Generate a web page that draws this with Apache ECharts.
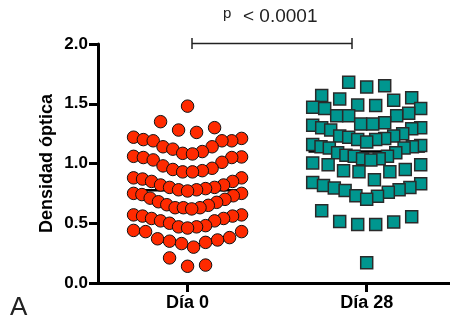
<!DOCTYPE html>
<html><head><meta charset="utf-8">
<script src="https://cdn.jsdelivr.net/npm/echarts@6/dist/echarts.min.js"></script>
<style>html,body{margin:0;padding:0;background:#fff}#c{width:450px;height:324px}</style>
</head><body><div id="c"></div>
<script>
// ---- data ----
const categories = ['Día 0', 'Día 28'];
const dia0Values = [
  1.48, 1.35, 1.28, 1.26, 1.30,
  1.21, 1.19, 1.19, 1.14, 1.10, 1.12, 1.14, 1.19, 1.20, 1.22, 1.08, 1.085,
  1.06, 1.05, 1.03, 0.98, 0.95, 0.93, 0.93, 0.94, 0.96, 1.01, 1.05, 1.055,
  0.88, 0.85, 0.82, 0.80, 0.78, 0.77, 0.78, 0.79, 0.80, 0.82, 0.85, 0.87, 0.88,
  0.75, 0.73, 0.70, 0.675, 0.65, 0.63, 0.62, 0.63, 0.655, 0.68, 0.71, 0.74, 0.75, 0.63,
  0.57, 0.56, 0.54, 0.52, 0.50, 0.47, 0.46, 0.47, 0.48, 0.52, 0.54, 0.56, 0.57,
  0.44, 0.43, 0.37, 0.35, 0.33, 0.30, 0.34, 0.36, 0.38, 0.43,
  0.21, 0.14, 0.15
];
const dia28Values = [
  1.64, 1.65, 1.68,
  1.485, 1.49, 1.53, 1.54, 1.55, 1.57,
  1.33, 1.33, 1.34, 1.40, 1.40, 1.40, 1.42, 1.46, 1.46, 1.47,
  1.18, 1.20, 1.20, 1.21, 1.22, 1.23, 1.23, 1.25, 1.28, 1.29, 1.30, 1.30, 1.32,
  1.03, 1.04, 1.04, 1.06, 1.06, 1.07, 1.09, 1.09, 1.13, 1.13, 1.14, 1.14, 1.15, 1.16,
  0.865, 0.93, 0.93, 0.94, 0.95, 0.99, 0.99, 1.005,
  0.70, 0.725, 0.73, 0.76, 0.775, 0.78, 0.795, 0.80, 0.815, 0.83, 0.84,
  0.49, 0.49, 0.51, 0.515, 0.555, 0.605,
  0.17
];
const yTicks = [0, 0.5, 1.0, 1.5, 2.0];
const pText = '< 0.0001';

// ---- layout ----
const W = 450, H = 324;
const gridLeft = 98, gridRight = 0, gridTop = 44, gridBottom = 41;
const xMin = 0, xMax = 3.93;
const catX = [1, 3];
const pxPerUnit = (W - gridLeft - gridRight) / (xMax - xMin);

// GraphPad-like column scatter: bin by value, spread each bin horizontally,
// lowest values in the middle.
function swarm(values, cx) {
  const s = values.slice().sort((a, b) => a - b);
  const rowH = 0.145, maxSpan = 108, maxStep = 18;
  const pts = [];
  let i = 0;
  while (i < s.length) {
    const start = s[i];
    const row = [];
    while (i < s.length && s[i] < start + rowH) { row.push(s[i]); i++; }
    const n = row.length;
    const step = n > 1 ? Math.min(maxStep, maxSpan / (n - 1)) : 0;
    row.forEach((v, k) => {
      let slot;
      if (n % 2 === 1) slot = k === 0 ? 0 : (k % 2 === 1 ? 1 : -1) * Math.ceil(k / 2);
      else slot = (k % 2 === 0 ? 1 : -1) * (Math.floor(k / 2) + 0.5);
      pts.push([cx + slot * step / pxPerUnit, v]);
    });
  }
  return pts.reverse();
}
const mean = a => a.reduce((p, c) => p + c, 0) / a.length;
const m0 = mean(dia0Values), m28 = mean(dia28Values);
const half = 0.65;

const chart = echarts.init(document.getElementById('c'), null, {renderer: 'canvas'});
const FONT = 'Liberation Sans, Arial, Helvetica, sans-serif';
chart.setOption({
  animation: false,
  backgroundColor: '#fff',
  grid: {left: gridLeft, right: gridRight, top: gridTop, bottom: gridBottom},
  xAxis: {
    type: 'value', min: xMin, max: xMax, interval: 1,
    splitLine: {show: false},
    axisLine: {show: true, onZero: false, lineStyle: {color: '#000', width: 3}},
    axisTick: {show: true, customValues: catX, length: 9, lineStyle: {color: '#000', width: 3}},
    axisLabel: {show: true, customValues: catX, margin: 11, color: '#000',
      fontFamily: FONT, fontWeight: 'bold', fontSize: 18,
      formatter: v => { const i = catX.indexOf(v); return i >= 0 ? categories[i] : ''; }}
  },
  yAxis: {
    type: 'value', min: 0, max: 2, interval: 0.5,
    name: 'Densidad óptica', nameLocation: 'middle', nameGap: 42, nameMoveOverlap: false,
    nameTextStyle: {color: '#000', fontFamily: FONT, fontWeight: 'bold', fontSize: 18},
    splitLine: {show: false},
    axisLine: {show: true, lineStyle: {color: '#000', width: 3}},
    axisTick: {show: true, length: 9, lineStyle: {color: '#000', width: 3}},
    axisLabel: {margin: 10, color: '#000', fontFamily: FONT, fontWeight: 'bold', fontSize: 17,
      formatter: v => yTicks.indexOf(v) >= 0 ? v.toFixed(1) : ''}
  },
  series: [
    {type: 'line', data: [[catX[0] - half, m0], [catX[0] + half, m0]], symbol: 'none', z: 1,
      lineStyle: {color: '#000', width: 2.5}, silent: true},
    {type: 'line', data: [[catX[1] - half, m28], [catX[1] + half, m28]], symbol: 'none', z: 1,
      lineStyle: {color: '#000', width: 2.5}, silent: true},
    {type: 'scatter', name: categories[0], data: swarm(dia0Values, catX[0]), z: 2,
      symbol: 'circle', symbolSize: 12.5,
      itemStyle: {color: '#FF2A00', borderColor: '#111', borderWidth: 1, opacity: 1}},
    {type: 'scatter', name: categories[1], data: swarm(dia28Values, catX[1]), z: 2,
      symbol: 'rect', symbolSize: 12,
      itemStyle: {color: '#00968F', borderColor: '#2a2a2a', borderWidth: 1.5, opacity: 1}}
  ],
  graphic: [
    {type: 'line', shape: {x1: 192, y1: 43.5, x2: 352, y2: 43.5}, style: {stroke: '#222', lineWidth: 1.5}},
    {type: 'line', shape: {x1: 192, y1: 38, x2: 192, y2: 49}, style: {stroke: '#222', lineWidth: 1.5}},
    {type: 'line', shape: {x1: 352, y1: 38, x2: 352, y2: 49}, style: {stroke: '#222', lineWidth: 1.5}},
    {type: 'text', x: 223, y: 14.3, style: {text: 'p', fontSize: 15, fontFamily: FONT, fill: '#222', verticalAlign: 'middle', align: 'left'}},
    {type: 'text', x: 243, y: 17, style: {text: pText, fontSize: 19, fontFamily: FONT, fill: '#222', verticalAlign: 'middle', align: 'left'}},
    {type: 'text', x: 10, y: 308, style: {text: 'A', fontSize: 26, fontFamily: FONT, fill: '#222', verticalAlign: 'middle', align: 'left'}}
  ]
});
</script></body></html>
